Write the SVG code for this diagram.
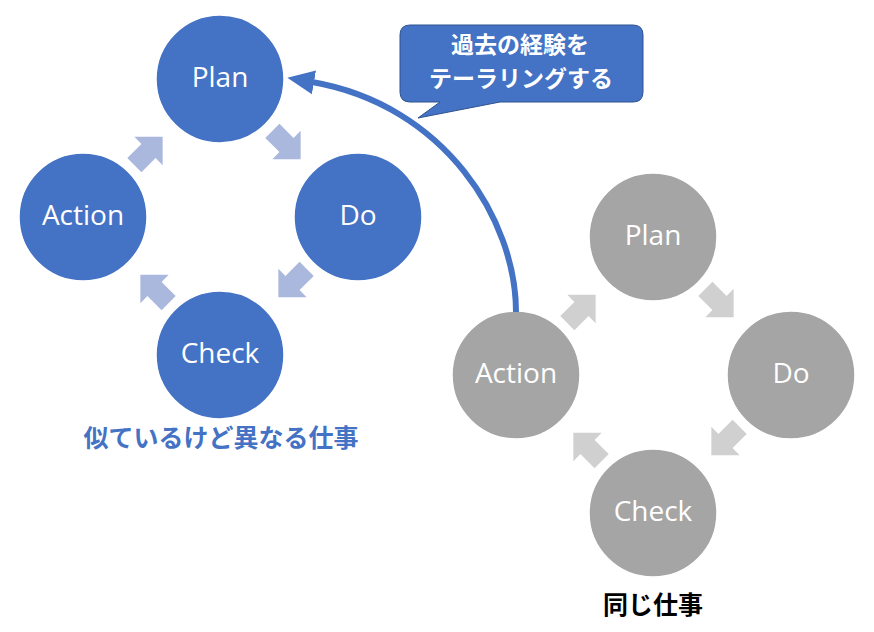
<svg xmlns="http://www.w3.org/2000/svg" width="874" height="632" viewBox="0 0 874 632">
  <defs>
    <style>
      .blue { fill: #4472C4; stroke: #FFFFFF; stroke-width: 1.5; }
      .gray { fill: #A5A5A5; stroke: #FFFFFF; stroke-width: 1.5; }
      .ctext { font-family: "Open Sans", "Noto Sans", "Liberation Sans", sans-serif; font-size: 28px; fill: #FFFFFF; text-anchor: middle; }
      .jp { font-family: "Noto Sans CJK JP", "Noto Sans", sans-serif; font-weight: bold; font-size: 25px; text-anchor: middle; }
      .callout-text { font-size: 23px; fill: #FFFFFF; }
      .barrow { fill: #ABB8DE; }
      .garrow { fill: #D0D0D0; }
    </style>
    <polygon id="blk" points="-20,-10 0,-10 0,-20 20,0 0,20 0,10 -20,10"/>
    <marker id="head" markerUnits="userSpaceOnUse" markerWidth="30" markerHeight="30" viewBox="0 0 30 30" refX="2" refY="15" orient="auto">
      <polygon points="0,3 27,15 0,27" fill="#4472C4"/>
    </marker>
  </defs>

  <!-- Blue cycle -->
  <g id="blue-plan"><circle class="blue" cx="220" cy="79" r="64"/><text class="ctext" x="220" y="87">Plan</text></g>
  <g id="blue-do"><circle class="blue" cx="358" cy="217" r="64"/><text class="ctext" x="358" y="225">Do</text></g>
  <g id="blue-check"><circle class="blue" cx="220" cy="355" r="64"/><text class="ctext" x="220" y="363">Check</text></g>
  <g id="blue-action"><circle class="blue" cx="83" cy="217" r="64"/><text class="ctext" x="83" y="225">Action</text></g>

  <!-- Gray cycle -->
  <g id="gray-plan"><circle class="gray" cx="653" cy="237" r="64"/><text class="ctext" x="653" y="245">Plan</text></g>
  <g id="gray-do"><circle class="gray" cx="791" cy="375" r="64"/><text class="ctext" x="791" y="383">Do</text></g>
  <g id="gray-check"><circle class="gray" cx="653" cy="513" r="64"/><text class="ctext" x="653" y="521">Check</text></g>
  <g id="gray-action"><circle class="gray" cx="516" cy="375" r="64"/><text class="ctext" x="516" y="383">Action</text></g>

  <!-- Connectors -->
  <g id="connectors">
    <use href="#blk" class="barrow" transform="translate(148.5,151) rotate(-45)"/>
    <use href="#blk" class="barrow" transform="translate(286.5,145) rotate(45)"/>
    <use href="#blk" class="barrow" transform="translate(292.5,283) rotate(135)"/>
    <use href="#blk" class="barrow" transform="translate(154.5,289) rotate(-135)"/>

    <use href="#blk" class="garrow" transform="translate(581.5,309) rotate(-45)"/>
    <use href="#blk" class="garrow" transform="translate(719.5,303) rotate(45)"/>
    <use href="#blk" class="garrow" transform="translate(725.5,441) rotate(135)"/>
    <use href="#blk" class="garrow" transform="translate(587.5,447) rotate(-135)"/>

    <path d="M516,312 C516,220 445,105 312,82" fill="none" stroke="#4472C4" stroke-width="6" marker-end="url(#head)"/>
  </g>

  <!-- Callout -->
  <g id="callout">
    <path d="M410,25 H633 Q643,25 643,35 V92 Q643,102 633,102 H500 L418,118 L440,102 H410 Q400,102 400,92 V35 Q400,25 410,25 Z" fill="#4472C4" stroke="#2F528F" stroke-width="1"/>
    <text class="jp callout-text" x="520" y="53">過去の経験を</text>
    <text class="jp callout-text" x="521" y="87">テーラリングする</text>
  </g>

  <!-- Labels -->
  <g id="label-similar"><text class="jp" x="221" y="447" fill="#4472C4">似ているけど異なる仕事</text></g>
  <g id="label-same"><text class="jp" x="653" y="614" fill="#000000">同じ仕事</text></g>
</svg>
